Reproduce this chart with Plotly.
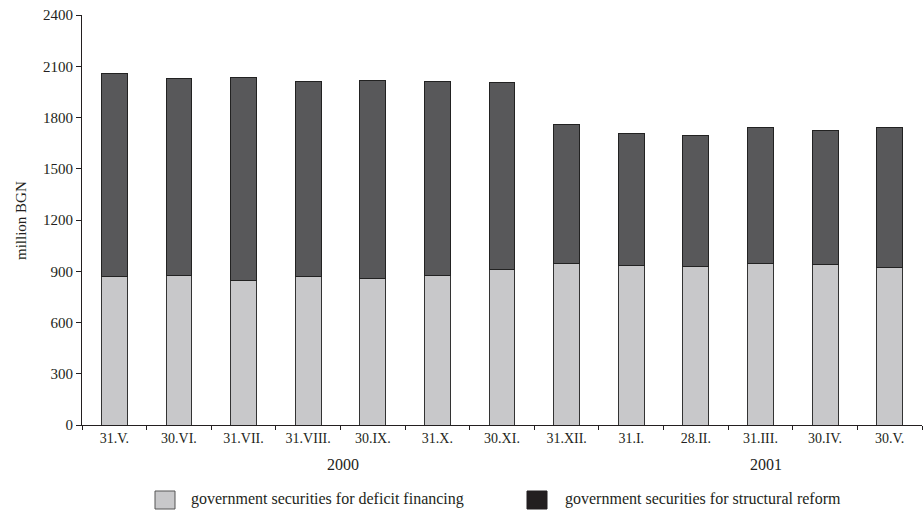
import plotly.graph_objects as go

categories = ["31.V.", "30.VI.", "31.VII.", "31.VIII.", "30.IX.", "31.X.", "30.XI.",
              "31.XII.", "31.I.", "28.II.", "31.III.", "30.IV.", "30.V."]
totals = [2059, 2031, 2035, 2008, 2015, 2010, 2002, 1757, 1707, 1697, 1742, 1724, 1742]
deficit = [869, 875, 847, 867, 857, 873, 912, 943, 932, 929, 945, 941, 920]
structural = [t - d for t, d in zip(totals, deficit)]
y_ticks = [0, 300, 600, 900, 1200, 1500, 1800, 2100, 2400]
years = ["2000", "2001"]
legend_names = ["government securities for deficit financing",
                "government securities for structural reform"]

FONT = "Liberation Serif"
TXT = "#231f20"
LIGHT = "#c8c8ca"
DARK = "#58585a"

W, H = 923, 512
L, R, T, B = 82, 1, 15, 87
PW, PH = W - L - R, H - T - B


def px(x):
    return (x - L) / PW


def py(y):
    return (H - B - y) / PH


fig = go.Figure()
fig.add_trace(go.Bar(x=categories, y=deficit, name=legend_names[0],
                     marker=dict(color=LIGHT, line=dict(color="#333333", width=1)),
                     showlegend=False))
fig.add_trace(go.Bar(x=categories, y=structural, name=legend_names[1],
                     marker=dict(color=DARK, line=dict(color="#222222", width=1)),
                     showlegend=False))

fig.update_layout(
    barmode="stack",
    bargap=0.6,
    width=W, height=H,
    margin=dict(l=L, r=R, t=T, b=B),
    paper_bgcolor="white", plot_bgcolor="white",
    font=dict(family=FONT, size=14, color=TXT),
    showlegend=False,
    xaxis=dict(type="category", showline=True, linecolor=TXT, linewidth=1,
               ticks="outside", tickson="boundaries", ticklen=4, tickcolor=TXT,
               showgrid=False, tickfont=dict(size=14), automargin=False),
    yaxis=dict(range=[0, 2400], tickvals=y_ticks, showline=True, linecolor=TXT, linewidth=1,
               ticks="outside", ticklen=5, tickcolor=TXT, showgrid=False,
               zeroline=False, tickfont=dict(size=15), automargin=False),
)

# y-axis title
fig.add_annotation(x=px(21), y=0.5, xref="paper", yref="paper", text="million BGN",
                   textangle=-90, showarrow=False, font=dict(size=15),
                   xanchor="center", yanchor="middle")

# year labels
fig.add_annotation(x=px(343), y=py(464), xref="paper", yref="paper", text=years[0],
                   showarrow=False, font=dict(size=16), xanchor="center", yanchor="middle")
fig.add_annotation(x=px(766), y=py(464), xref="paper", yref="paper", text=years[1],
                   showarrow=False, font=dict(size=16), xanchor="center", yanchor="middle")

# legend (manual)
legend_items = [(155, LIGHT, "#555555", 189), (527, TXT, TXT, 563)]
for (sx, fill, edge, tx), name in zip(legend_items, legend_names):
    fig.add_shape(type="rect", xref="paper", yref="paper",
                  x0=px(sx), x1=px(sx + 20), y0=py(509), y1=py(491),
                  fillcolor=fill, line=dict(color=edge, width=1))
    fig.add_annotation(x=px(tx), y=py(499), xref="paper", yref="paper", text=name,
                       showarrow=False, font=dict(size=16), xanchor="left", yanchor="middle")

fig.write_html("out.html", config={"displayModeBar": False},
               post_script="document.body.style.margin='0px';document.body.style.overflow='hidden';")
